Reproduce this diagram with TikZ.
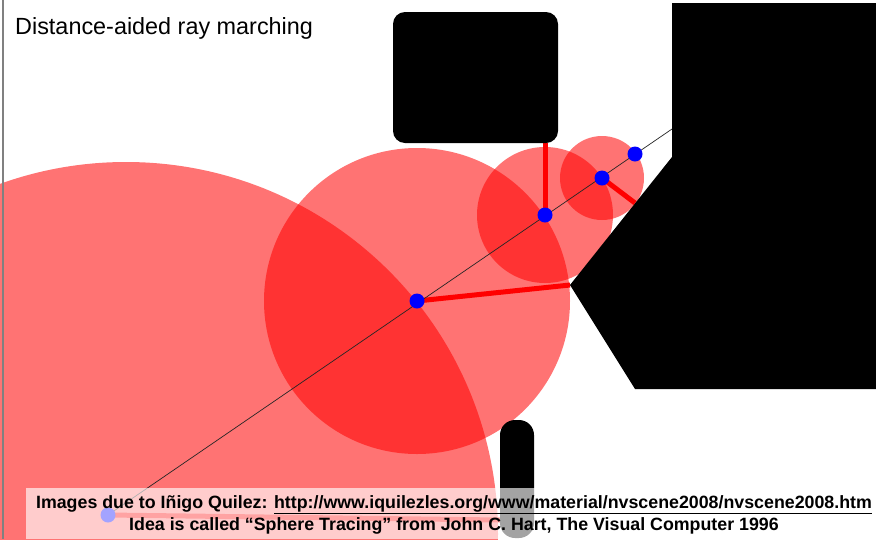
\documentclass[tikz,border=0pt]{standalone}
\usepackage{fontspec}
\setmainfont{Liberation Sans}
\begin{document}
\begin{tikzpicture}[x=1pt,y=-1pt,
  disc/.style={fill=red,fill opacity=0.55},
  reach/.style={draw=red,line width=5pt},
  raystyle/.style={draw=black!85,line width=0.7pt},
  solidobj/.style={fill=black},
  probe/.style={fill=blue},
  band/.style={fill=white,fill opacity=0.64},
  lbl/.style={inner sep=0pt,text=black}]
\useasboundingbox (0,0) rectangle (876,539);
\fill[white] (0,0) rectangle (876,539);
% march points
\coordinate (o) at (108,515);
\coordinate (p1) at (417,301);
\coordinate (p2) at (545,215);
\coordinate (p3) at (602,178);
\coordinate (p4) at (635,154);
\coordinate (rayend) at (672,129);
% circle centres
\coordinate (c0) at (126,534);
% nearest surface points
\coordinate (h0) at (500,520);
\coordinate (h1) at (570,285);
\coordinate (h2) at (545,143);
\coordinate (h3) at (635,203);
% unbounding spheres
\fill[disc] (c0) circle[radius=372pt];
\fill[disc] (p1) circle[radius=153pt];
\fill[disc] (p2) circle[radius=68pt];
\fill[disc] (p3) circle[radius=42pt];
% distance lines
\draw[reach] (o) -- (h0);
\draw[reach] (p1) -- (h1);
\draw[reach] (p2) -- (h2);
\draw[reach] (p3) -- (h3);
% ray
\draw[raystyle] (o) -- (rayend);
% obstacles
\fill[solidobj,rounded corners=12pt] (393,12) rectangle (558,143);
\fill[solidobj] (672,3) -- (876,3) -- (876,389) -- (635,389) -- (h1) -- (672,157) -- cycle;
\fill[solidobj,rounded corners=15pt] (500,420) rectangle (534,538);
% probe points
\foreach \p in {o,p1,p2,p3,p4} \fill[probe] (\p) circle[radius=7.5pt];
% caption band
\fill[band] (26,488) rectangle (876,539);
% frame line
\draw[gray,line width=1.5pt] (3,0) -- (3,539);
% texts
\node[lbl,anchor=base west,font=\fontsize{23.4}{28}\selectfont] (title) at (15,34) {Distance-aided ray marching};
\node[lbl,anchor=base,font=\bfseries\fontsize{17.8}{21}\selectfont] (credit1) at (454,508) {Images due to Iñigo Quilez: \underline{http://www.iquilezles.org/www/material/nvscene2008/nvscene2008.htm}};
\node[lbl,anchor=base,font=\bfseries\fontsize{17.8}{21}\selectfont] (credit2) at (454,530) {Idea is called “Sphere Tracing” from John C. Hart, The Visual Computer 1996};
\end{tikzpicture}
\end{document}
